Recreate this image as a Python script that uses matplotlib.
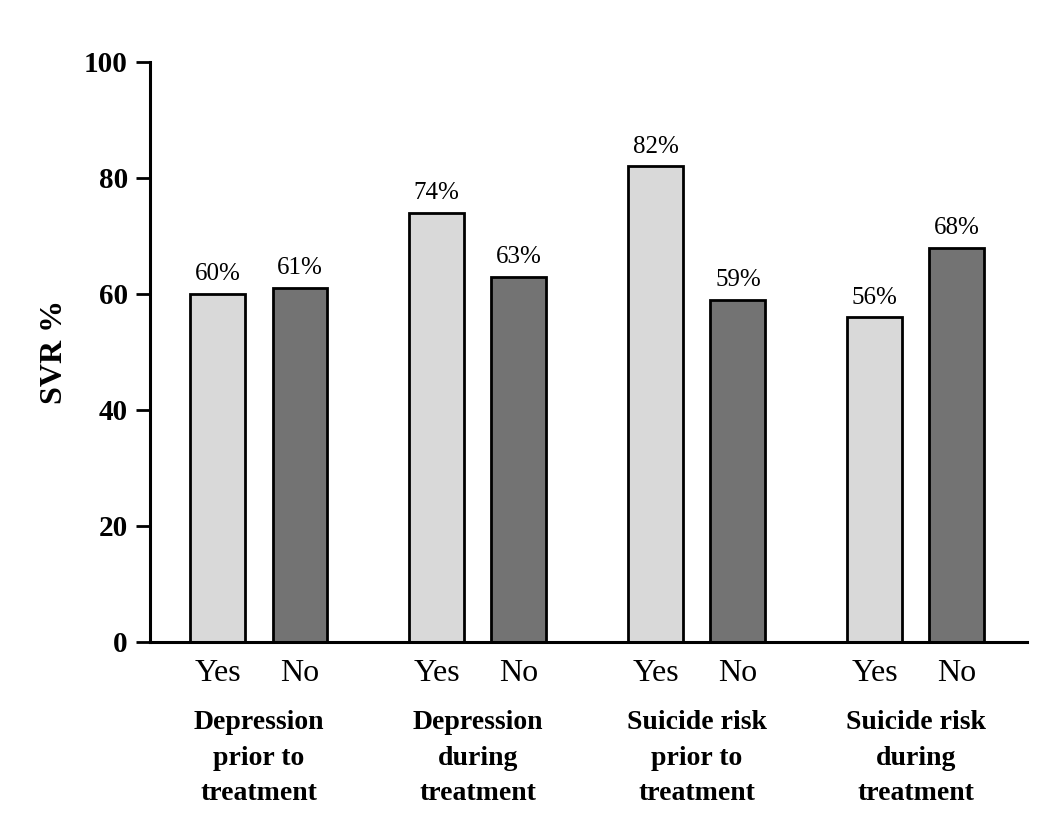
import matplotlib
matplotlib.use("Agg")
import matplotlib.pyplot as plt
import numpy as np

groups = ["Depression\nprior to\ntreatment", "Depression\nduring\ntreatment",
          "Suicide risk\nprior to\ntreatment", "Suicide risk\nduring\ntreatment"]
yes_vals = [60, 74, 82, 56]
no_vals = [61, 63, 59, 68]
sub_labels = ["Yes", "No"]
yticks = [0, 20, 40, 60, 80, 100]

serif = ["Liberation Serif", "DejaVu Serif"]

fig = plt.figure(figsize=(10.5, 8.39), dpi=100)
ax = fig.add_axes([150/1050, 1-642/839, (1027-150)/1050, (642-62)/839])

x = np.arange(len(groups))
off = 0.188
w = 0.251
b1 = ax.bar(x - off, yes_vals, w, color="#d9d9d9", edgecolor="black", linewidth=2, zorder=2)
b2 = ax.bar(x + off, no_vals, w, color="#737373", edgecolor="black", linewidth=2, zorder=2)

for bars, vals in ((b1, yes_vals), (b2, no_vals)):
    for r, v in zip(bars, vals):
        ax.text(r.get_x() + r.get_width()/2, v + 1.5, f"{v}%", ha="center", va="bottom",
                fontsize=18, family=serif)

ax.set_xlim(-0.497, 3.508)
ax.set_ylim(0, 100)
ax.set_yticks(yticks)
ax.set_yticklabels([str(t) for t in yticks], fontsize=21, fontweight="bold", family=serif)
ax.tick_params(axis="y", direction="out", length=10, width=2, pad=6)
ax.set_xticks([])
for s in ("top", "right"):
    ax.spines[s].set_visible(False)
for s in ("left", "bottom"):
    ax.spines[s].set_linewidth(2.2)

ax.set_ylabel("SVR %", fontsize=23, fontweight="bold", family=serif, labelpad=11)

trans = ax.get_xaxis_transform()
for i, g in enumerate(groups):
    ax.text(i - off, -0.054, sub_labels[0], transform=trans, ha="center", va="center",
            fontsize=23, family=serif)
    ax.text(i + off, -0.054, sub_labels[1], transform=trans, ha="center", va="center",
            fontsize=23, family=serif)
    ax.text(i, -0.118, g, transform=trans, ha="center", va="top",
            fontsize=20, fontweight="bold", family=serif, linespacing=1.53)

fig.savefig("out.png", dpi=100)
